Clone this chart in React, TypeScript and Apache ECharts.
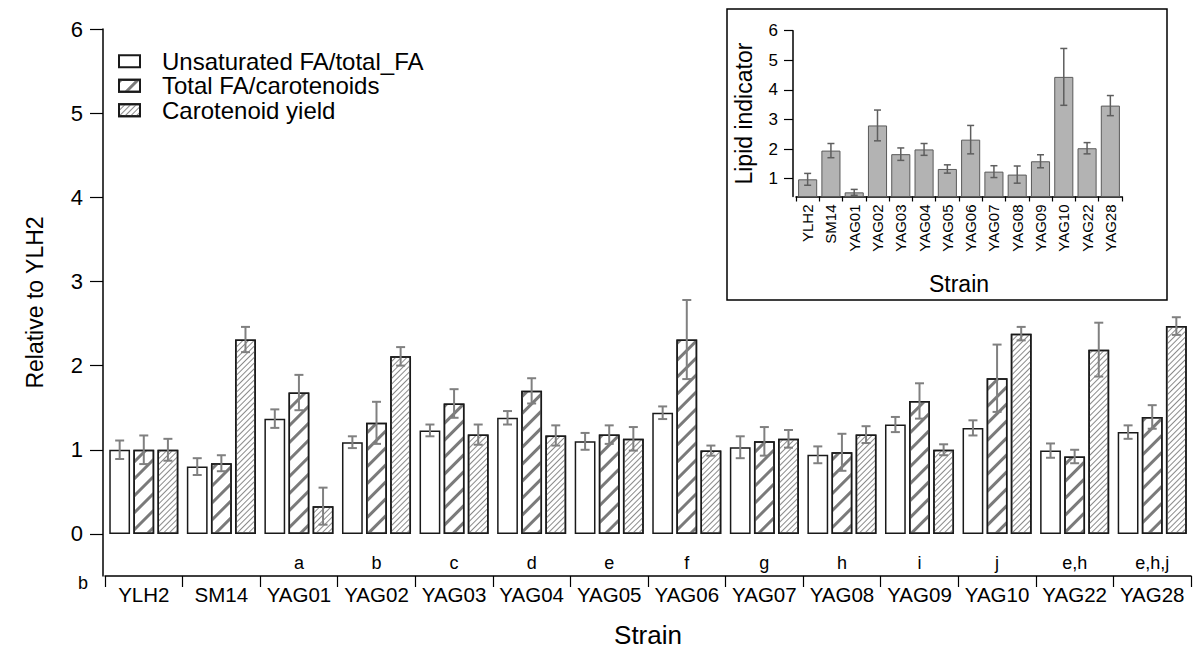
import React, { useEffect, useRef } from "react";
import * as echarts from "echarts";

const strains = ["YLH2", "SM14", "YAG01", "YAG02", "YAG03", "YAG04", "YAG05", "YAG06", "YAG07", "YAG08", "YAG09", "YAG10", "YAG22", "YAG28"];
const sigLetters = ["", "", "a", "b", "c", "d", "e", "f", "g", "h", "i", "j", "e,h", "e,h,j"];
const seriesNames = ["Unsaturated FA/total_FA", "Total FA/carotenoids", "Carotenoid yield"];
const unsatFA = [1.0, 0.8, 1.37, 1.09, 1.23, 1.38, 1.1, 1.44, 1.03, 0.94, 1.3, 1.26, 0.99, 1.21];
const unsatErr = [0.11, 0.1, 0.11, 0.07, 0.07, 0.08, 0.1, 0.075, 0.13, 0.1, 0.09, 0.09, 0.085, 0.08];
const totalFACar = [1.0, 0.84, 1.68, 1.32, 1.55, 1.7, 1.18, 2.31, 1.1, 0.97, 1.58, 1.85, 0.92, 1.39];
const totalFACarErr = [0.17, 0.095, 0.21, 0.25, 0.17, 0.15, 0.11, 0.47, 0.17, 0.22, 0.21, 0.4, 0.08, 0.14];
const carYield = [1.0, 2.31, 0.33, 2.11, 1.18, 1.17, 1.13, 0.99, 1.13, 1.18, 1.0, 2.38, 2.19, 2.47];
const carYieldErr = [0.13, 0.15, 0.22, 0.11, 0.12, 0.12, 0.14, 0.06, 0.105, 0.1, 0.065, 0.08, 0.32, 0.105];
const lipid = [0.98, 1.95, 0.54, 2.8, 1.83, 1.99, 1.33, 2.32, 1.24, 1.14, 1.59, 4.44, 2.03, 3.47];
const lipidErr = [0.2, 0.24, 0.1, 0.52, 0.21, 0.2, 0.14, 0.48, 0.2, 0.29, 0.22, 0.96, 0.19, 0.34];
const mainTicks = [0, 1, 2, 3, 4, 5, 6];
const insetTicks = [1, 2, 3, 4, 5, 6];

const FONT = "Liberation Sans, Arial, Helvetica, sans-serif";
const MAIN_CAT_GAP = 0.11;
const MAIN_BAR_GAP = 0.16;
const INSET_CAT_GAP = 0.18;

function errorSeries(
  values: number[],
  errs: number[],
  index: number,
  nBars: number,
  catGap: number,
  barGap: number,
  xAxisIndex: number,
  yAxisIndex: number,
  color: string,
  lineWidth: number,
  capW: number
) {
  return {
    type: "custom",
    xAxisIndex,
    yAxisIndex,
    z: 10,
    silent: true,
    data: values.map((v, i) => [i, v - errs[i], v + errs[i]]),
    encode: { x: 0, y: [1, 2] },
    renderItem: (params: any, api: any) => {
      const i = api.value(0);
      const lo = api.coord([i, api.value(1)]);
      const hi = api.coord([i, api.value(2)]);
      const band = api.size([1, 0])[0];
      const w = (band * (1 - catGap)) / (nBars + (nBars - 1) * barGap);
      const offset = (index - (nBars - 1) / 2) * w * (1 + barGap);
      const x = lo[0] + offset;
      const style = { stroke: color, lineWidth };
      return {
        type: "group",
        children: [
          { type: "line", shape: { x1: x, y1: hi[1], x2: x, y2: lo[1] }, style },
          { type: "line", shape: { x1: x - capW / 2, y1: hi[1], x2: x + capW / 2, y2: hi[1] }, style },
          { type: "line", shape: { x1: x - capW / 2, y1: lo[1], x2: x + capW / 2, y2: lo[1] }, style },
        ],
      };
    },
  };
}

export default function App() {
  const ref = useRef<HTMLDivElement>(null);
  useEffect(() => {
    if (!ref.current) return;
    const chart = echarts.init(ref.current, null, { renderer: "svg" });
    const barBorder = { borderColor: "#1a1a1a", borderWidth: 1.5 };
    const option: any = {
      animation: false,
      backgroundColor: "#ffffff",
      textStyle: { fontFamily: FONT, color: "#000" },
      legend: {
        data: seriesNames,
        orient: "vertical",
        left: 113,
        top: 44,
        itemWidth: 21,
        itemHeight: 12,
        itemGap: 0,
        icon: "rect",
        textStyle: { fontSize: 24, lineHeight: 24.5, color: "#000", fontFamily: FONT, padding: [0, 0, 0, 17] },
      },
      grid: [
        { left: 105, top: 29, width: 1086, height: 547, outerBoundsMode: "none", containLabel: false },
        { left: 796, top: 30.7, width: 326, height: 165.8, outerBoundsMode: "none", containLabel: false },
      ],
      xAxis: [
        {
          type: "category",
          gridIndex: 0,
          data: strains,
          position: "bottom",
          name: "Strain",
          nameLocation: "middle",
          nameGap: 46,
          nameTextStyle: { fontSize: 26, color: "#000", fontFamily: FONT },
          axisLine: { onZero: false, lineStyle: { color: "#000", width: 1.5 } },
          axisTick: { show: true, length: 11, alignWithLabel: false, lineStyle: { color: "#000", width: 1.2 } },
          axisLabel: { interval: 0, fontSize: 20.5, color: "#000", margin: 8, fontFamily: FONT },
          splitLine: { show: false },
        },
        {
          type: "category",
          gridIndex: 0,
          data: strains,
          position: "top",
          offset: -547,
          axisLine: { show: false },
          axisTick: { show: false },
          axisLabel: {
            interval: 0,
            fontSize: 18,
            color: "#000",
            margin: 4,
            fontFamily: FONT,
            formatter: (_v: string, idx: number) => sigLetters[idx],
          },
          splitLine: { show: false },
        },
        {
          type: "category",
          gridIndex: 1,
          data: strains,
          position: "bottom",
          name: "Strain",
          nameLocation: "middle",
          nameGap: 76,
          nameTextStyle: { fontSize: 23, color: "#000", fontFamily: FONT },
          axisLine: { onZero: false, lineStyle: { color: "#000", width: 1.5 } },
          axisTick: { show: true, length: 5, alignWithLabel: false, lineStyle: { color: "#000", width: 1.2 } },
          axisLabel: { interval: 0, rotate: 90, fontSize: 15, color: "#000", margin: 8, fontFamily: FONT },
          splitLine: { show: false },
        },
      ],
      yAxis: [
        {
          type: "value",
          gridIndex: 0,
          min: -0.5,
          max: 6,
          offset: 2,
          name: "Relative to YLH2",
          nameLocation: "middle",
          nameGap: 57,
          nameTextStyle: { fontSize: 23, color: "#000", fontFamily: FONT },
          axisLine: { show: true, lineStyle: { color: "#000", width: 1.5 } },
          axisTick: { show: true, length: 13, customValues: mainTicks, lineStyle: { color: "#000", width: 1.2 } },
          axisLabel: { customValues: mainTicks, fontSize: 22, color: "#000", margin: 20, fontFamily: FONT },
          splitLine: { show: false },
        },
        {
          type: "value",
          gridIndex: 1,
          min: 0.4,
          max: 6,
          offset: 3,
          name: "Lipid indicator",
          nameLocation: "middle",
          nameGap: 38,
          nameTextStyle: { fontSize: 23, color: "#000", fontFamily: FONT },
          axisLine: { show: true, lineStyle: { color: "#000", width: 1.5 } },
          axisTick: { show: true, length: 9, customValues: insetTicks, lineStyle: { color: "#000", width: 1.2 } },
          axisLabel: { customValues: insetTicks, fontSize: 17, color: "#000", margin: 15, fontFamily: FONT },
          splitLine: { show: false },
        },
      ],
      graphic: [
        {
          type: "rect",
          z: -1,
          shape: { x: 727, y: 9, width: 440, height: 291 },
          style: { fill: "#fff", stroke: "#000", lineWidth: 1.5 },
        },
        {
          type: "text",
          x: 83,
          y: 583,
          style: { text: "b", fontSize: 18, fill: "#000", fontFamily: FONT, align: "center", verticalAlign: "middle" },
        },
      ],
      series: [
        {
          name: seriesNames[0],
          type: "bar",
          xAxisIndex: 0,
          yAxisIndex: 0,
          data: unsatFA,
          barCategoryGap: `${MAIN_CAT_GAP * 100}%`,
          barGap: `${MAIN_BAR_GAP * 100}%`,
          itemStyle: { color: "#ffffff", ...barBorder },
        },
        {
          name: seriesNames[1],
          type: "bar",
          xAxisIndex: 0,
          yAxisIndex: 0,
          data: totalFACar,
          barCategoryGap: `${MAIN_CAT_GAP * 100}%`,
          barGap: `${MAIN_BAR_GAP * 100}%`,
          itemStyle: {
            color: "#ffffff",
            ...barBorder,
            decal: {
              symbol: "rect",
              symbolSize: 1,
              dashArrayX: [1, 0],
              dashArrayY: [2.2, 8.5],
              rotation: -Math.PI / 4,
              color: "#7a7a7a",
              backgroundColor: "#ffffff",
            },
          },
        },
        {
          name: seriesNames[2],
          type: "bar",
          xAxisIndex: 0,
          yAxisIndex: 0,
          data: carYield,
          barCategoryGap: `${MAIN_CAT_GAP * 100}%`,
          barGap: `${MAIN_BAR_GAP * 100}%`,
          itemStyle: {
            color: "#ffffff",
            ...barBorder,
            decal: {
              symbol: "rect",
              symbolSize: 1,
              dashArrayX: [1, 0],
              dashArrayY: [1, 2.6],
              rotation: -Math.PI / 4,
              color: "#8a8a8a",
              backgroundColor: "#ffffff",
            },
          },
        },
        errorSeries(unsatFA, unsatErr, 0, 3, MAIN_CAT_GAP, MAIN_BAR_GAP, 0, 0, "#808080", 2, 9),
        errorSeries(totalFACar, totalFACarErr, 1, 3, MAIN_CAT_GAP, MAIN_BAR_GAP, 0, 0, "#808080", 2, 9),
        errorSeries(carYield, carYieldErr, 2, 3, MAIN_CAT_GAP, MAIN_BAR_GAP, 0, 0, "#808080", 2, 9),
        {
          name: "Lipid indicator",
          type: "bar",
          xAxisIndex: 2,
          yAxisIndex: 1,
          data: lipid,
          barCategoryGap: `${INSET_CAT_GAP * 100}%`,
          itemStyle: { color: "#b3b3b3", borderColor: "#5a5a5a", borderWidth: 1 },
        },
        errorSeries(lipid, lipidErr, 0, 1, INSET_CAT_GAP, 0, 2, 1, "#5e5e5e", 1.5, 7),
      ],
    };
    chart.setOption(option);
    return () => chart.dispose();
  }, []);
  return <div ref={ref} style={{ position: "fixed", left: 0, top: 0, width: 1193, height: 651 }} />;
}
